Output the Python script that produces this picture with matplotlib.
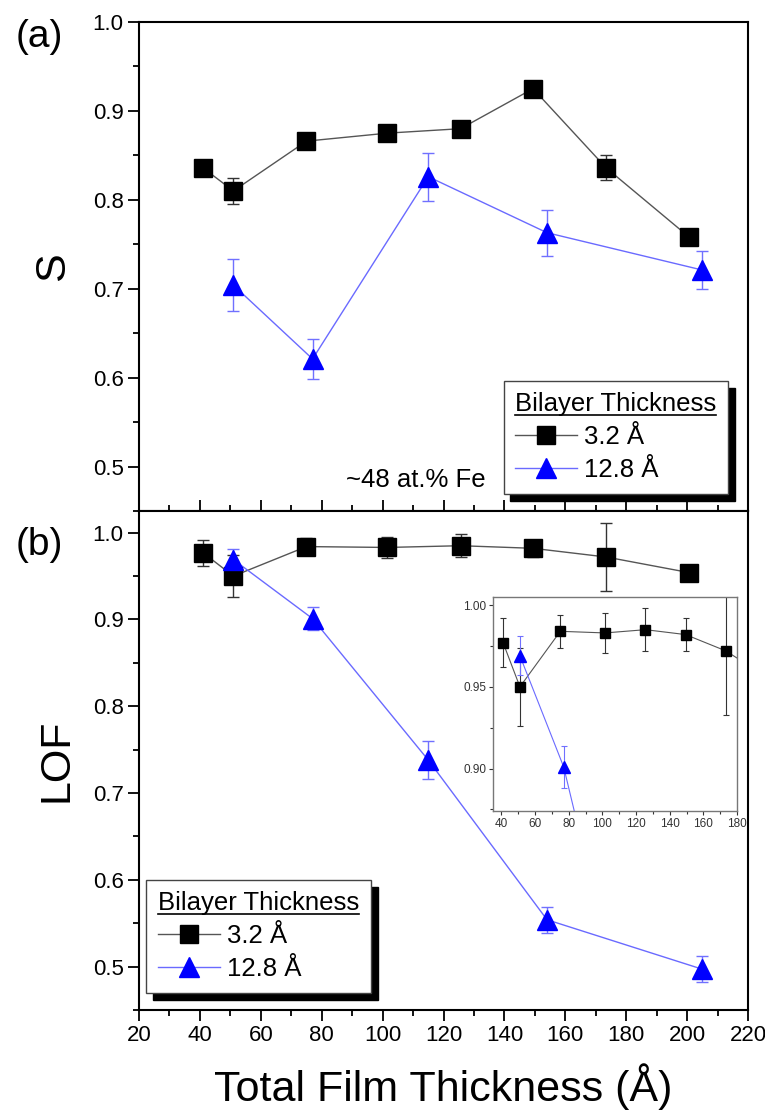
import numpy as np
import matplotlib
matplotlib.use("Agg")
import matplotlib.pyplot as plt
from matplotlib.ticker import MultipleLocator
from matplotlib.lines import Line2D

plt.rcParams['font.family'] = ['Liberation Sans', 'DejaVu Sans']

# ---- data ----
x_32 = [41, 51, 75, 101.6, 125.6, 149.4, 173.4, 200.7]
S_32 = [0.836, 0.810, 0.866, 0.875, 0.880, 0.925, 0.836, 0.758]
S_32_err = [0.004, 0.015, 0.006, 0.004, 0.004, 0.004, 0.014, 0.004]

x_128 = [51, 77, 115, 154, 205]
S_128 = [0.704, 0.621, 0.826, 0.763, 0.721]
S_128_err = [0.029, 0.022, 0.027, 0.026, 0.021]

LOF_32 = [0.977, 0.950, 0.984, 0.983, 0.985, 0.982, 0.972, 0.954]
LOF_32_err = [0.015, 0.024, 0.010, 0.012, 0.013, 0.010, 0.039, 0.008]

LOF_128 = [0.969, 0.901, 0.738, 0.554, 0.497]
LOF_128_err = [0.012, 0.013, 0.022, 0.015, 0.015]

xticks = [20, 40, 60, 80, 100, 120, 140, 160, 180, 200, 220]
inset_xticks = [40, 60, 80, 100, 120, 140, 160, 180]

W, H = 765, 1113
fig = plt.figure(figsize=(W / 100, H / 100), dpi=100)

L, R = 139 / W, 748 / W
axa = fig.add_axes([L, 1 - 511 / H, R - L, (511 - 22) / H])
axb = fig.add_axes([L, 1 - 1010 / H, R - L, (1010 - 511) / H], sharex=axa)

blk_line = dict(color='#555555', lw=1.0)
blu_line = dict(color='#6a6aff', lw=1.0)


def draw_series(ax, x, y, e, kind, ms, lw=1.0, cap=4):
    if kind == 'sq':
        ax.errorbar(x, y, yerr=e, fmt='none', ecolor='#333333', elinewidth=lw,
                    capsize=cap, capthick=lw, zorder=2)
        ax.plot(x, y, '-', color='#555555', lw=lw, zorder=1)
        ax.plot(x, y, 's', ms=ms, mfc='black', mec='black', zorder=3)
    else:
        ax.errorbar(x, y, yerr=e, fmt='none', ecolor='#7070ff', elinewidth=lw,
                    capsize=cap, capthick=lw, zorder=2)
        ax.plot(x, y, '-', color='#6a6aff', lw=lw, zorder=1)
        ax.plot(x, y, '^', ms=ms, mfc='#0000ff', mec='#0000ff', zorder=3)


draw_series(axa, x_32, S_32, S_32_err, 'sq', 13)
draw_series(axa, x_128, S_128, S_128_err, 'tri', 15)
draw_series(axb, x_32, LOF_32, LOF_32_err, 'sq', 13)
draw_series(axb, x_128, LOF_128, LOF_128_err, 'tri', 15)

axa.set_xlim(20, 220)
axa.set_ylim(0.45, 1.0)
axb.set_ylim(0.45, 1.025)
axb.set_xticks(xticks)
axb.xaxis.set_minor_locator(MultipleLocator(10))

for ax in (axa, axb):
    for sp in ax.spines.values():
        sp.set_linewidth(1.5)
    ax.yaxis.set_major_locator(MultipleLocator(0.1))
    ax.yaxis.set_minor_locator(MultipleLocator(0.05))
    ax.tick_params(axis='y', which='major', direction='out', length=8, width=1.3,
                   labelsize=16, pad=3, right=False)
    ax.tick_params(axis='y', which='minor', direction='out', length=4, width=1.3,
                   right=False)

# shared boundary: ticks reach into both panels
axa.tick_params(axis='x', which='both', direction='inout', bottom=True, top=False,
                labelbottom=False, width=1.3)
axa.tick_params(axis='x', which='major', length=16)
axa.tick_params(axis='x', which='minor', length=8)
axb.tick_params(axis='x', which='both', direction='out', bottom=True, top=False,
                width=1.3, labelsize=16, pad=3)
axb.tick_params(axis='x', which='major', length=8)
axb.tick_params(axis='x', which='minor', length=4)

axa.set_yticks([0.5, 0.6, 0.7, 0.8, 0.9, 1.0])
axb.set_yticks([0.5, 0.6, 0.7, 0.8, 0.9, 1.0])

axa.set_ylabel('S', fontsize=31, labelpad=14)
axb.set_ylabel('LOF', fontsize=31, labelpad=12)
axb.set_xlabel('Total Film Thickness (Å)', fontsize=31, labelpad=12)

fig.text(39 / W, 1 - 37 / H, '(a)', fontsize=28, ha='center', va='center')
fig.text(39 / W, 1 - 545 / H, '(b)', fontsize=28, ha='center', va='center')

axa.text(0.455, 0.063, '~48 at.% Fe', transform=axa.transAxes, fontsize=18.5,
         ha='center', va='center')

# ---- legends ----
handles = [Line2D([], [], marker='s', ms=13, mfc='black', mec='black', **blk_line),
           Line2D([], [], marker='^', ms=15, mfc='#0000ff', mec='#0000ff', **blu_line)]
labels = ['3.2 Å', '12.8 Å']
shadow = dict(color='black', alpha=1, ox=5, oy=-5)
leg_kw = dict(title='Bilayer Thickness', borderaxespad=0, fontsize=18.5,
              title_fontsize=18.5, alignment='left', fancybox=False, shadow=shadow,
              framealpha=1, edgecolor='#444444', handlelength=2.4,
              handletextpad=0.3, labelspacing=0.35, borderpad=0.45)

lega = axa.legend(handles, labels, loc='lower right',
                  bbox_to_anchor=(0.967, 0.035), **leg_kw)
legb = axb.legend(handles, labels, loc='lower left',
                  bbox_to_anchor=(0.012, 0.034), **leg_kw)
for leg in (lega, legb):
    leg.get_frame().set_linewidth(1.0)

# ---- inset ----
axi = fig.add_axes([493 / W, 1 - 811 / H, (737 - 493) / W, (811 - 597) / H])
draw_series(axi, x_32, LOF_32, LOF_32_err, 'sq', 7, lw=0.8, cap=2.5)
draw_series(axi, x_128, LOF_128, LOF_128_err, 'tri', 8, lw=0.8, cap=2.5)
axi.set_xlim(35, 180)
axi.set_ylim(0.874, 1.005)
axi.set_xticks(inset_xticks)
axi.xaxis.set_minor_locator(MultipleLocator(10))
axi.set_yticks([0.90, 0.95, 1.00])
axi.yaxis.set_minor_locator(MultipleLocator(0.025))
axi.yaxis.set_major_formatter(matplotlib.ticker.FormatStrFormatter('%.2f'))
axi.tick_params(which='both', direction='out', labelsize=8.5, width=0.8,
                colors='#333333', pad=2)
axi.tick_params(which='major', length=3)
axi.tick_params(which='minor', length=2)
for sp in axi.spines.values():
    sp.set_color('#777777')
    sp.set_linewidth(1.0)

# underline legend titles
fig.canvas.draw()
r = fig.canvas.get_renderer()
for leg in (lega, legb):
    bb = leg.get_title().get_window_extent(r)
    y = bb.y0 + 1
    fig.add_artist(Line2D([bb.x0 / W, bb.x1 / W], [y / H, y / H],
                          transform=fig.transFigure, color='black', lw=1.2))

fig.savefig('out.png', dpi=100)
